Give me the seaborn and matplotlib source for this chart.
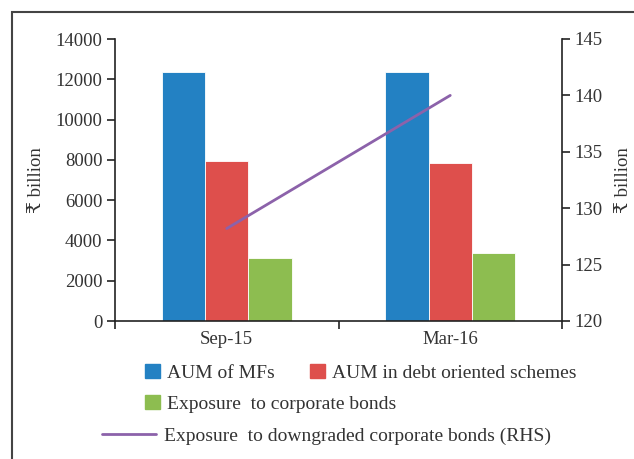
import matplotlib
matplotlib.use("Agg")
import matplotlib.pyplot as plt
from matplotlib.patches import Rectangle, Patch
from matplotlib.lines import Line2D
from matplotlib.ticker import FixedLocator, NullFormatter
import numpy as np
import pandas as pd
import seaborn as sns

# Data (₹ billion)
dates = ["Sep-15", "Mar-16"]
aum_mfs = [12360, 12360]
aum_debt = [7940, 7830]
exposure_corp = [3130, 3390]
exposure_downgraded = [128.2, 140.0]  # right-hand scale

series_names = ["AUM of MFs", "AUM in debt oriented schemes", "Exposure  to corporate bonds"]
line_name = "Exposure  to downgraded corporate bonds (RHS)"
left_ticks = [0, 2000, 4000, 6000, 8000, 10000, 12000, 14000]
right_ticks = [120, 125, 130, 135, 140, 145]

colors = ["#2381C3", "#DE4F4C", "#8DBD50"]
line_color = "#8C62AA"
text_color = "#333333"
spine_color = "#222222"

df = pd.DataFrame({
    "date": dates * 3,
    "value": aum_mfs + aum_debt + exposure_corp,
    "series": [s for s in series_names for _ in dates],
})

sns.set_theme(style="white")
plt.rcParams["font.family"] = ["Liberation Serif", "DejaVu Serif"]
plt.rcParams["font.size"] = 13

fig = plt.figure(figsize=(6.34, 4.59), dpi=100)
ax = fig.add_axes([115 / 634, 1 - 321 / 459, (562 - 115) / 634, (321 - 39) / 459])

sns.barplot(data=df, x="date", y="value", hue="series", palette=colors,
            width=0.58, ax=ax, legend=False, edgecolor="#ffffff", linewidth=0.6,
            saturation=1)
ax.set_xlim(-0.5, 1.5)
ax.set_ylim(0, 14000)
ax.set_yticks(left_ticks)
ax.set_xlabel("")
ax.set_ylabel("₹ billion", color=text_color, fontsize=13.5, labelpad=8)

ax2 = ax.twinx()
ax2.plot(np.arange(len(dates)), exposure_downgraded, color=line_color, linewidth=2)
ax2.set_ylim(120, 145)
ax2.set_yticks(right_ticks)
ax2.set_ylabel("₹ billion", color=text_color, fontsize=13.5, rotation=90, labelpad=9)

for a in (ax, ax2):
    for side in ("left", "right", "bottom"):
        a.spines[side].set_visible(True)
        a.spines[side].set_color(spine_color)
        a.spines[side].set_linewidth(1.2)
    a.spines["top"].set_visible(False)
ax2.spines["left"].set_visible(False)
ax2.spines["bottom"].set_visible(False)
ax.spines["right"].set_visible(False)

ax.tick_params(axis="y", direction="out", length=6, width=1.2, color=spine_color,
               labelcolor=text_color, labelsize=13.5, pad=3, left=True)
ax2.tick_params(axis="y", direction="out", length=6, width=1.2, color=spine_color,
                labelcolor=text_color, labelsize=13.5, pad=3, right=True)
ax.tick_params(axis="x", which="major", length=0, labelcolor=text_color, labelsize=13.5, pad=7)
ax.xaxis.set_minor_locator(FixedLocator([-0.5, 0.5, 1.5]))
ax.xaxis.set_minor_formatter(NullFormatter())
ax.tick_params(axis="x", which="minor", direction="out", length=6, width=1.2,
               color=spine_color, bottom=True)

# Legend rows
def px(x, y):
    return (x / 634, 1 - y / 459)

leg_kw = dict(frameon=False, fontsize=14, labelcolor=text_color, loc="center left",
              handletextpad=0.4, borderpad=0, borderaxespad=0)
h1 = [Patch(color=colors[0]), Patch(color=colors[1])]
fig.legend(h1, series_names[:2], bbox_to_anchor=px(145, 373), ncol=2,
           handlelength=0.75, handleheight=0.75, columnspacing=1.8, **leg_kw)
fig.legend([Patch(color=colors[2])], [series_names[2]], bbox_to_anchor=px(145, 404),
           handlelength=0.75, handleheight=0.75, **leg_kw)
fig.legend([Line2D([], [], color=line_color, linewidth=2)], [line_name],
           bbox_to_anchor=px(102, 436), handlelength=2.8, **leg_kw)

# Outer frame
fig.patches.append(Rectangle((12 / 634, -0.1), 1.2, 1 - 12 / 459 + 0.1, transform=fig.transFigure,
                             fill=False, edgecolor="#444444", linewidth=1.5))

fig.savefig("out.png", dpi=100)
